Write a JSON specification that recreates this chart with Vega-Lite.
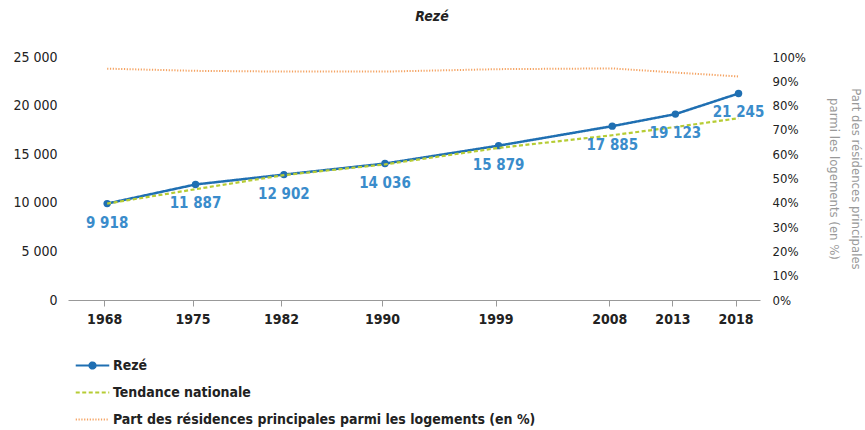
{
  "$schema": "https://vega.github.io/schema/vega-lite/v6.json",
  "width": 692,
  "height": 243,
  "autosize": {"type": "none"},
  "padding": {"left": 68, "top": 57, "right": 105, "bottom": 130},
  "background": "white",
  "config": {
    "view": {"stroke": null},
    "font": "'Liberation Sans Narrow', 'DejaVu Sans Condensed', Roboto, sans-serif",
    "locale": {"number": {"decimal": ",", "thousands": " ", "grouping": [3], "currency": ["", " €"]}}
  },
  "title": {
    "text": "Rezé",
    "fontStyle": "italic",
    "fontWeight": "bold",
    "fontSize": 14,
    "color": "#222",
    "anchor": "middle",
    "dx": 18,
    "offset": 26
  },
  "data": {
    "values": [
      {"year": 1968, "serie": "Rezé", "value": 9918},
      {"year": 1975, "serie": "Rezé", "value": 11887},
      {"year": 1982, "serie": "Rezé", "value": 12902},
      {"year": 1990, "serie": "Rezé", "value": 14036},
      {"year": 1999, "serie": "Rezé", "value": 15879},
      {"year": 2008, "serie": "Rezé", "value": 17885},
      {"year": 2013, "serie": "Rezé", "value": 19123},
      {"year": 2018, "serie": "Rezé", "value": 21245},
      {"year": 1968, "serie": "Tendance nationale", "value": 9918},
      {"year": 1975, "serie": "Tendance nationale", "value": 11400},
      {"year": 1982, "serie": "Tendance nationale", "value": 12850},
      {"year": 1990, "serie": "Tendance nationale", "value": 13950},
      {"year": 1999, "serie": "Tendance nationale", "value": 15650},
      {"year": 2008, "serie": "Tendance nationale", "value": 16950},
      {"year": 2013, "serie": "Tendance nationale", "value": 17800},
      {"year": 2018, "serie": "Tendance nationale", "value": 18700},
      {"year": 1968, "serie": "Part des résidences principales parmi les logements (en %)", "value": 95.2},
      {"year": 1975, "serie": "Part des résidences principales parmi les logements (en %)", "value": 94.3},
      {"year": 1982, "serie": "Part des résidences principales parmi les logements (en %)", "value": 94.0},
      {"year": 1990, "serie": "Part des résidences principales parmi les logements (en %)", "value": 94.0},
      {"year": 1999, "serie": "Part des résidences principales parmi les logements (en %)", "value": 95.0},
      {"year": 2008, "serie": "Part des résidences principales parmi les logements (en %)", "value": 95.3},
      {"year": 2013, "serie": "Part des résidences principales parmi les logements (en %)", "value": 93.6},
      {"year": 2018, "serie": "Part des résidences principales parmi les logements (en %)", "value": 92.0}
    ]
  },
  "encoding": {
    "x": {
      "field": "year",
      "type": "quantitative",
      "scale": {"domain": [1964.9, 2019.7], "nice": false, "zero": false},
      "axis": {
        "values": [1968, 1975, 1982, 1990, 1999, 2008, 2013, 2018],
        "format": "d",
        "title": null,
        "grid": false,
        "domainColor": "#999",
        "domainWidth": 1,
        "tickColor": "#999",
        "tickSize": 6,
        "tickOffset": -3,
        "labelFontSize": 14,
        "labelFontWeight": "bold",
        "labelColor": "#222",
        "labelPadding": 6,
        "labelFlush": false
      }
    },
    "color": {
      "field": "serie",
      "type": "nominal",
      "scale": {
        "domain": ["Rezé", "Tendance nationale", "Part des résidences principales parmi les logements (en %)"],
        "range": ["#1f6fb2", "#b6cc34", "#f4a261"]
      },
      "legend": {
        "title": null,
        "orient": "none",
        "legendX": 12,
        "legendY": 296,
        "direction": "vertical",
        "symbolSize": 500,
        "symbolStrokeWidth": 2.2,
        "labelFontSize": 14,
        "labelFontWeight": "bold",
        "labelColor": "#222",
        "labelOffset": 8,
        "rowPadding": 7,
        "labelLimit": 600
      }
    },
    "strokeDash": {
      "field": "serie",
      "type": "nominal",
      "scale": {
        "domain": ["Rezé", "Tendance nationale", "Part des résidences principales parmi les logements (en %)"],
        "range": [[1, 0], [4, 2.5], [1.2, 1.6]]
      },
      "legend": null
    }
  },
  "layer": [
    {
      "encoding": {
        "y": {
          "field": "value",
          "type": "quantitative",
          "scale": {"domain": [0, 25000], "nice": false},
          "axis": {
            "values": [0, 5000, 10000, 15000, 20000, 25000],
            "format": ",d",
            "title": null,
            "grid": false,
            "domain": false,
            "ticks": false,
            "labelFontSize": 14,
            "labelColor": "#222",
            "labelPadding": 11
          }
        }
      },
      "layer": [
        {
          "transform": [{"filter": "datum.serie === 'Rezé'"}],
          "mark": {"type": "line", "strokeWidth": 2.5}
        },
        {
          "transform": [{"filter": "datum.serie === 'Rezé'"}],
          "mark": {"type": "point", "filled": true, "size": 0, "opacity": 1},
          "encoding": {
            "shape": {
              "field": "serie",
              "type": "nominal",
              "scale": {
                "domain": ["Rezé", "Tendance nationale", "Part des résidences principales parmi les logements (en %)"],
                "range": [
                  "M-1.5,0L1.5,0M0.27,0A0.27,0.27 0 1,1 -0.27,0A0.27,0.27 0 1,1 0.27,0Z",
                  "M-1.5,0L1.5,0",
                  "M-1.5,0L1.5,0"
                ]
              }
            }
          }
        },
        {
          "transform": [{"filter": "datum.serie === 'Rezé'"}],
          "mark": {"type": "circle", "size": 55, "opacity": 1, "color": "#1f6fb2"},
          "encoding": {"color": {"value": "#1f6fb2"}, "strokeDash": {"value": null}}
        },
        {
          "transform": [{"filter": "datum.serie === 'Tendance nationale'"}],
          "mark": {"type": "line", "strokeWidth": 2.2}
        },
        {
          "transform": [{"filter": "datum.serie === 'Rezé'"}],
          "mark": {"type": "text", "dy": 19, "fontSize": 15, "fontWeight": "bold", "color": "#3a8ccb"},
          "encoding": {
            "text": {"field": "value", "type": "quantitative", "format": ",d"},
            "color": {"value": "#3a8ccb"},
            "strokeDash": {"value": null}
          }
        }
      ]
    },
    {
      "transform": [{"filter": "datum.serie === 'Part des résidences principales parmi les logements (en %)'"}],
      "mark": {"type": "line", "strokeWidth": 2},
      "encoding": {
        "y": {
          "field": "value",
          "type": "quantitative",
          "scale": {"domain": [0, 100], "nice": false},
          "axis": {
            "orient": "right",
            "values": [0, 10, 20, 30, 40, 50, 60, 70, 80, 90, 100],
            "labelExpr": "datum.value + '%'",
            "grid": false,
            "domain": false,
            "ticks": false,
            "labelFontSize": 13,
            "labelColor": "#222",
            "labelPadding": 12,
            "title": ["Part des résidences principales", "parmi les logements (en %)"],
            "titleAngle": 90,
            "titleColor": "#999",
            "titleFontSize": 13,
            "titleFontWeight": "normal",
            "titlePadding": 21,
            "titleLineHeight": 22
          }
        }
      }
    }
  ],
  "resolve": {"scale": {"y": "independent"}}
}
